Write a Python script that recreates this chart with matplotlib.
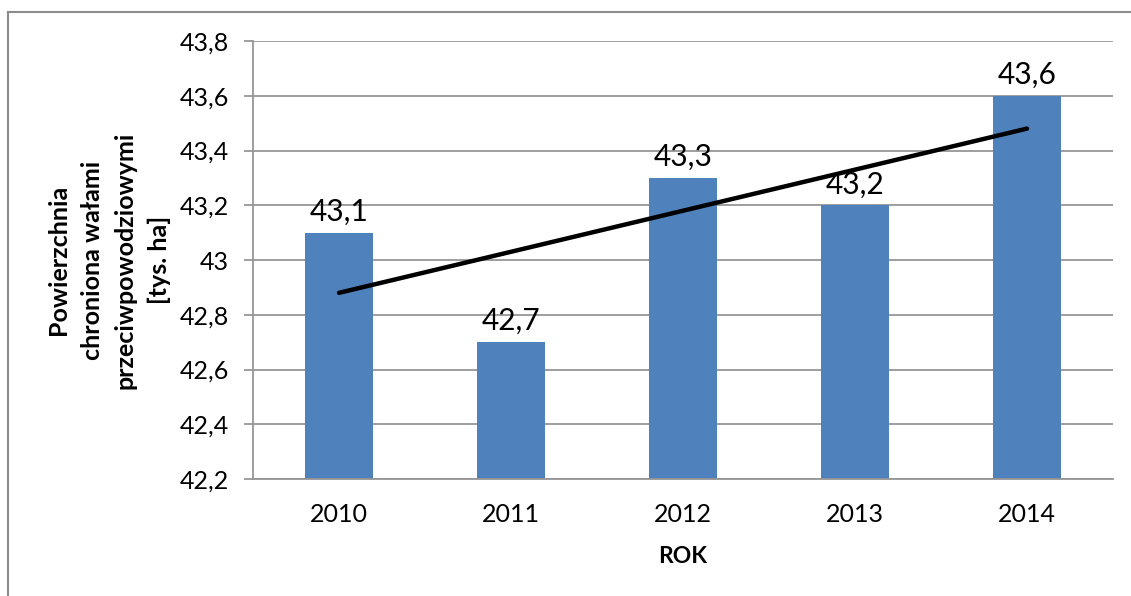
import numpy as np
import matplotlib.pyplot as plt
from matplotlib.lines import Line2D
from matplotlib.ticker import FuncFormatter, MultipleLocator

plt.rcParams['font.family'] = ['Lato', 'DejaVu Sans']

years = ['2010', '2011', '2012', '2013', '2014']
area = [43.1, 42.7, 43.3, 43.2, 43.6]

bar_color = '#4F81BD'
grid_color = '#969696'


def comma(v, pos=None):
    return f'{v:.1f}'.rstrip('0').rstrip('.').replace('.', ',')


fig = plt.figure(figsize=(11.31, 5.96), dpi=100)
ax = fig.add_axes([253 / 1131, 1 - 479 / 596, (1113 - 253) / 1131, (479 - 41) / 596])

x = np.arange(len(years))
bars = ax.bar(x, area, width=0.4, color=bar_color, zorder=2)

# linear trend line
a, b = np.polyfit(x, area, 1)
ax.plot(x[[0, -1]], a * x[[0, -1]] + b, color='black', lw=3.2,
        solid_capstyle='round', zorder=3)

for xi, v in zip(x, area):
    ax.annotate(comma(v), (xi, v), xytext=(0, 5), textcoords='offset points',
                ha='center', va='bottom', fontsize=21.5, zorder=4)

ax.set_xlim(-0.5, len(years) - 0.5)
ax.set_ylim(42.2, 43.8)
ax.yaxis.set_major_locator(MultipleLocator(0.2))
ax.yaxis.set_major_formatter(FuncFormatter(comma))
ax.set_xticks(x)
ax.set_xticklabels(years)

ax.grid(axis='y', color=grid_color, lw=1.3, zorder=0)
ax.set_axisbelow(True)
for s in ['top', 'right']:
    ax.spines[s].set_visible(False)
ax.spines['left'].set_color(grid_color)
ax.spines['left'].set_linewidth(1.3)
ax.spines['bottom'].set_color(grid_color)
ax.spines['bottom'].set_linewidth(1.3)

ax.tick_params(axis='y', length=6.5, width=1.3, color=grid_color, pad=11, labelsize=18)
ax.tick_params(axis='x', length=0, pad=17, labelsize=18)

ax.set_xlabel('ROK', fontsize=16.5, fontweight='bold', labelpad=15)
ax.set_ylabel('Powierzchnia\nchroniona wałami\nprzeciwpowodziowymi\n[tys. ha]',
              fontsize=18, fontweight='bold', linespacing=1.55, labelpad=6)

# chart border
fig.add_artist(Line2D([8 / 1131, 8 / 1131], [0, 1 - 12 / 596],
                      transform=fig.transFigure, color='#8c8c8c', lw=1.5))
fig.add_artist(Line2D([8 / 1131, 1], [1 - 12 / 596, 1 - 12 / 596],
                      transform=fig.transFigure, color='#8c8c8c', lw=1.5))

fig.savefig('out.png', dpi=100)
